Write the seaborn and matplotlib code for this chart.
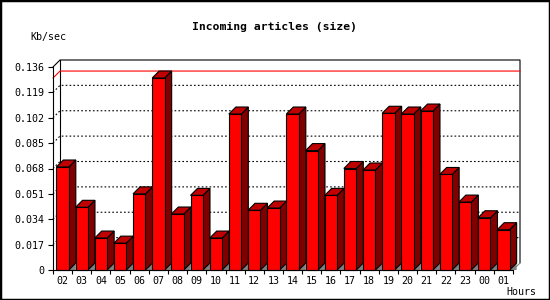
import matplotlib
matplotlib.use('Agg')
import matplotlib.pyplot as plt
from matplotlib.patches import Polygon, Rectangle
import seaborn as sns
import numpy as np

# data
hours = ['02', '03', '04', '05', '06', '07', '08', '09', '10', '11', '12', '13',
         '14', '15', '16', '17', '18', '19', '20', '21', '22', '23', '00', '01']
kb_sec = [0.069, 0.042, 0.0214, 0.018, 0.051, 0.1286, 0.0375, 0.050, 0.0214, 0.1045,
          0.040, 0.0415, 0.1045, 0.080, 0.050, 0.068, 0.067, 0.105, 0.1045, 0.1065,
          0.064, 0.0455, 0.035, 0.027]
yticks = [0, 0.017, 0.034, 0.051, 0.068, 0.085, 0.102, 0.119, 0.136]

front_col = '#ff0000'
side_col = '#800000'
top_col = '#c00000'
mono = 'DejaVu Sans Mono'

sns.set_style('white')
plt.rcParams['font.family'] = mono
plt.rcParams['text.color'] = 'black'
plt.rcParams['xtick.color'] = 'black'
plt.rcParams['ytick.color'] = 'black'
plt.rcParams['axes.labelcolor'] = 'black'

fig = plt.figure(figsize=(5.5, 3), dpi=100)
ax = fig.add_axes([53 / 550, 30 / 300, 460 / 550, 203 / 300])

sns.barplot(x=hours, y=kb_sec, color=front_col, saturation=1, width=0.65,
            edgecolor='black', linewidth=0.8, ax=ax)
ax.set_xlim(-0.5, len(hours) - 0.5)
ax.set_ylim(0, yticks[-1])

# depth offset of 7 px, converted to data units
p0 = ax.transData.transform((0, 0))
ddx, ddy = ax.transData.inverted().transform(p0 + np.array([7, 7]))
xl, xr = -0.5, len(hours) - 0.5
ytop = yticks[-1]

# back walls
ax.plot([xl, xl + ddx, xr + ddx, xr + ddx], [ytop, ytop + ddy, ytop + ddy, ddy],
        color='black', lw=0.8, clip_on=False, zorder=1)
ax.plot([xl + ddx, xl + ddx], [ddy, ytop + ddy], color='black', lw=0.8,
        clip_on=False, zorder=1)
ax.plot([xr, xr + ddx], [0, ddy], color='#808080', lw=0.8, clip_on=False, zorder=1)
for t in yticks[1:-1]:
    ax.plot([xl, xl + ddx, xr + ddx], [t, t + ddy, t + ddy], color='black',
            lw=0.8, ls=(0, (1.5, 2)), clip_on=False, zorder=1)

# maximum line
vmax = max(kb_sec)
ax.plot([xl, xl + ddx, xr + ddx], [vmax, vmax + ddy, vmax + ddy], color='red',
        lw=0.8, clip_on=False, zorder=1.5)

# 3d sides and tops
for i, bar in enumerate(ax.patches):
    x0 = bar.get_x()
    w = bar.get_width()
    h = bar.get_height()
    x1 = x0 + w
    z = 3 + i * 0.01
    shadow = Polygon([(x1, 0), (x1 + ddx, ddy), (x1 + ddx, 0)], closed=True,
                     facecolor='#808080', edgecolor='none', clip_on=False, zorder=z)
    side = Polygon([(x1, 0), (x1 + ddx, ddy), (x1 + ddx, h + ddy), (x1, h)],
                   closed=True, facecolor=side_col, edgecolor='black', lw=0.8,
                   clip_on=False, zorder=z + 0.001)
    top = Polygon([(x0, h), (x0 + ddx, h + ddy), (x1 + ddx, h + ddy), (x1, h)],
                  closed=True, facecolor=top_col, edgecolor='black', lw=0.8,
                  clip_on=False, zorder=z + 0.002)
    ax.add_patch(shadow)
    ax.add_patch(side)
    ax.add_patch(top)
    bar.set_zorder(z + 0.005)
    bar.set_clip_on(False)

# axes and ticks
for s in ['top', 'right']:
    ax.spines[s].set_visible(False)
for s in ['left', 'bottom']:
    ax.spines[s].set_color('black')
    ax.spines[s].set_linewidth(0.8)
    ax.spines[s].set_zorder(10)

ax.set_yticks(yticks)
ax.set_yticklabels(['0' if t == 0 else '%.3f' % t for t in yticks])
ax.tick_params(axis='y', left=True, length=3.6, width=0.8, pad=2.5,
               labelsize=7.2, colors='black')
ax.set_xticks(range(len(hours)))
ax.set_xticklabels(hours)
ax.set_xticks(np.arange(-0.5, len(hours)), minor=True)
ax.tick_params(axis='x', which='major', length=0, pad=4, labelsize=7.2,
               colors='black')
ax.tick_params(axis='x', which='minor', bottom=True, length=3, width=0.8,
               colors='black')
ax.grid(False)
ax.set_xlabel('')
ax.set_ylabel('')

fig.text(275 / 550, 1 - 27 / 300, 'Incoming articles (size)', ha='center',
         va='center', fontsize=8.2, fontweight='bold')
fig.text(30 / 550, 1 - 37 / 300, 'Kb/sec', ha='left', va='center', fontsize=7.2)
fig.text(536 / 550, 1 - 292 / 300, 'Hours', ha='right', va='center', fontsize=7.2)

fig.patches.append(Rectangle((0, 0), 1, 1, transform=fig.transFigure, fill=False,
                             edgecolor='black', lw=2.5, figure=fig))

fig.savefig('out.png', dpi=100, facecolor='white')
